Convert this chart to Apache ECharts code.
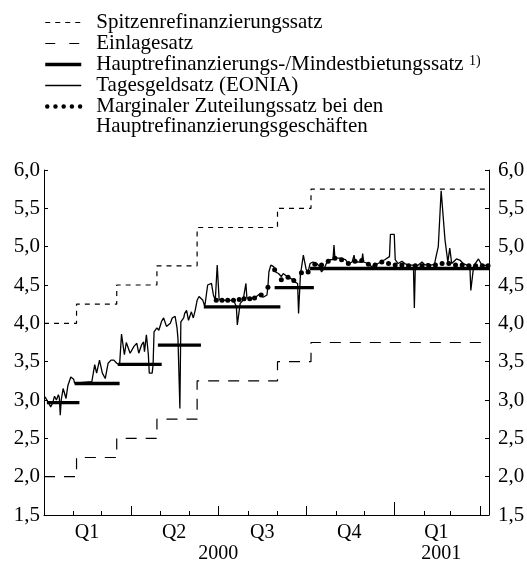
<!DOCTYPE html>
<html>
<head>
<meta charset="utf-8">
<script src="https://cdn.jsdelivr.net/npm/echarts@6/dist/echarts.min.js"></script>
<style>
  html, body { margin: 0; padding: 0; background: #fff; }
  #chart { width: 527px; height: 561px; }
</style>
</head>
<body>
<div id="chart"></div>
<script>
// Leitzinsen: Stufenwerte gelten ab dem jeweiligen Datum
const rateDates = ['2000-01-01', '2000-02-04', '2000-03-17', '2000-04-28', '2000-06-09', '2000-09-01', '2000-10-06', '2001-04-10']
const marginalRate = [4.00, 4.25, 4.50, 4.75, 5.25, 5.50, 5.75, 5.75]
const depositRate = [2.00, 2.25, 2.50, 2.75, 3.25, 3.50, 3.75, 3.75]

// Hauptrefinanzierungssatz, als einzelne Abschnitte
const mroFrom = ['2000-01-04', '2000-02-02', '2000-03-18', '2000-04-29', '2000-06-16', '2000-08-29', '2000-10-05']
const mroTo = ['2000-02-07', '2000-03-20', '2000-05-03', '2000-06-13', '2000-09-04', '2000-10-09', '2001-04-10']
const mroLevel = [2.965, 3.215, 3.465, 3.715, 4.215, 4.465, 4.715]

// EONIA, Tage seit 1.1.2000
const eoniaDay = [1, 2, 4, 7, 9, 11, 13, 15, 16, 17, 18, 20, 23, 25, 28, 31, 32, 34, 50, 51,
  53, 55, 58, 61, 64, 67, 70, 73, 76, 79, 81, 84, 86, 88, 90, 92, 94, 97, 99, 100,
  102, 104, 105, 107, 109, 110, 113, 114, 115, 118, 120, 123, 125, 128, 132, 134, 137, 139, 140, 142,
  143, 146, 147, 149, 151, 154, 156, 158, 160, 162, 164, 166, 168, 171, 172, 175, 177, 179, 180, 181,
  182, 183, 190, 198, 200, 201, 202, 204, 205, 208, 210, 211, 212, 219, 222, 226, 229, 233, 234, 235,
  237, 240, 242, 245, 248, 250, 254, 257, 260, 262, 265, 266, 267, 268, 269, 271, 273, 274, 276, 278,
  281, 285, 288, 290, 293, 295, 299, 302, 303, 304, 309, 315, 318, 322, 324, 325, 332, 333, 334, 339,
  342, 346, 349, 352, 356, 361, 362, 366, 367, 370, 374, 377, 381, 386, 387, 388, 391, 395, 398, 401,
  404, 408, 410, 412, 414, 415, 417, 419, 421, 422, 424, 426, 431, 435, 438, 442, 445, 446, 448, 449,
  454, 457, 460, 464]
const eoniaRate = [3.04, 3.04, 2.98, 2.91, 2.96, 3.05, 3.00, 3.07, 3.03, 2.80, 3.00, 3.15, 3.02, 3.19, 3.30, 3.27, 3.22, 3.24, 3.24, 3.23,
  3.46, 3.35, 3.52, 3.35, 3.28, 3.48, 3.52, 3.52, 3.48, 3.46, 3.86, 3.59, 3.75, 3.74, 3.61, 3.61, 3.70, 3.74, 3.61, 3.61,
  3.72, 3.76, 3.63, 3.85, 3.60, 3.35, 3.35, 3.46, 3.89, 3.94, 3.91, 4.03, 4.07, 3.96, 4.00, 4.07, 4.09, 3.94, 3.80, 2.89,
  4.02, 4.07, 4.13, 4.17, 4.04, 4.15, 4.07, 4.17, 4.30, 4.35, 4.35, 4.30, 4.22, 4.50, 4.50, 4.52, 4.37, 4.30, 4.30, 4.76,
  4.76, 4.31, 4.30, 4.30, 4.28, 4.22, 3.98, 3.98, 4.26, 4.30, 4.30, 4.52, 4.33, 4.33, 4.35, 4.39, 4.34, 4.37, 4.48, 4.67,
  4.76, 4.74, 4.67, 4.65, 4.61, 4.65, 4.61, 4.59, 4.57, 4.54, 4.52, 4.13, 4.13, 4.65, 4.72, 4.89, 4.89, 4.70, 4.67, 4.78,
  4.80, 4.78, 4.74, 4.67, 4.72, 4.78, 4.83, 4.83, 5.02, 4.85, 4.85, 4.83, 4.78, 4.80, 4.89, 4.80, 4.80, 4.91, 4.80, 4.78,
  4.74, 4.76, 4.78, 4.80, 4.83, 4.87, 5.16, 5.16, 4.83, 4.78, 4.81, 4.78, 4.76, 4.76, 4.20, 4.74, 4.76, 4.80, 4.76, 4.78,
  4.76, 4.77, 4.89, 5.00, 5.00, 5.73, 5.73, 5.09, 5.09, 4.80, 4.98, 4.78, 4.84, 4.82, 4.78, 4.76, 4.75, 4.43, 4.43, 4.75,
  4.84, 4.77, 4.76, 4.75]

// Marginaler Zuteilungssatz, Tage seit 1.1.2000
const allotDay = [180, 186, 192, 198, 204, 209, 215, 220, 227, 234, 241, 248, 255, 261, 269, 276, 283, 290, 297, 304,
  311, 318, 325, 332, 339, 346, 353, 360, 367, 374, 381, 388, 395, 402, 409, 416, 423, 430, 437, 444,
  451, 458, 464]
const allotRate = [4.30, 4.30, 4.30, 4.30, 4.31, 4.32, 4.32, 4.33, 4.37, 4.47, 4.70, 4.57, 4.60, 4.56, 4.66, 4.67, 4.77, 4.76, 4.81, 4.85,
  4.83, 4.78, 4.81, 4.82, 4.77, 4.76, 4.80, 4.78, 4.76, 4.76, 4.75, 4.75, 4.75, 4.75, 4.76, 4.78, 4.78, 4.76, 4.76, 4.75,
  4.75, 4.75, 4.75]

// Achse
const monthTicks = ['2000-02-01', '2000-03-01', '2000-04-01', '2000-05-01', '2000-06-01', '2000-07-01', '2000-08-01',
  '2000-09-01', '2000-10-01', '2000-11-01', '2000-12-01', '2001-01-01', '2001-02-01', '2001-03-01', '2001-04-01']
const quarterTicks = ['2000-04-01', '2000-07-01', '2000-10-01', '2001-04-01']
const quarterMid = ['2000-02-15', '2000-05-16', '2000-08-16', '2000-11-15', '2001-02-14']
const quarterLabels = ['Q1', 'Q2', 'Q3', 'Q4', 'Q1']
const yearTicks = ['2001-01-01']
const yearMid = ['2000-07-01', '2001-02-19']
const yearLabels = ['2000', '2001']

const names = [
  'Spitzenrefinanzierungssatz',
  'Einlagesatz',
  'Hauptrefinanzierungs-/Mindestbietungssatz',
  'Tagesgeldsatz (EONIA)',
  'Marginaler Zuteilungssatz bei den'
]
const secondLine = 'Hauptrefinanzierungsgeschäften'

const font = '"Liberation Serif", "Times New Roman", serif'
const black = '#000'

function toTime(s) {
  let p = s.split('-')
  return new Date(+p[0], +p[1] - 1, +p[2]).getTime()
}
function dayTime(d) {
  return new Date(2000, 0, 1 + d).getTime()
}

let xMin = toTime('2000-01-01')
let xMax = toTime('2001-04-10')

let mroData = []
mroLevel.forEach((v, i) => {
  mroData.push([toTime(mroFrom[i]), v], [toTime(mroTo[i]), v])
  if (i < mroLevel.length - 1) mroData.push([toTime(mroTo[i]), '-'])
})

let quarterMidT = quarterMid.map(toTime)
let yearMidT = yearMid.map(toTime)

let baseX = {
  type: 'value', min: xMin, max: xMax, position: 'bottom', scale: true,
  splitLine: {show: false}, axisPointer: {show: false}
}
let labelStyle = {color: black, fontFamily: font, fontSize: 20}
let yLabelStyle = {color: black, fontFamily: font, fontSize: 21}
let baseY = {
  type: 'value', min: 1.5, max: 6, interval: 0.5,
  splitLine: {show: false},
  axisLine: {show: true, lineStyle: {color: black, width: 1}},
  axisTick: {show: true, inside: true, length: 4, lineStyle: {color: black}}
}

let option = {
  animation: false,
  color: [black],
  grid: {left: 44, right: 38, top: 170, bottom: 46, containLabel: false, outerBoundsMode: 'none'},
  legend: {
    orient: 'vertical', left: 43, top: 12, padding: 0,
    itemWidth: 36, itemHeight: 10, itemGap: 0,
    selectedMode: false,
    itemStyle: {opacity: 0},
    textStyle: {
      fontFamily: font, fontSize: 21, color: black, lineHeight: 21, padding: [0, 0, 0, 10],
      rich: {
        n: {fontFamily: font, fontSize: 21, color: black, lineHeight: 21},
        s: {fontFamily: font, fontSize: 14, color: black, lineHeight: 19, verticalAlign: 'top'}
      }
    },
    formatter: name => name === names[2] ? '{n|' + name + '} {s|1)}' : name,
    data: [
      {name: names[0], lineStyle: {color: black, width: 1.2, type: [5, 5], opacity: 1}},
      {name: names[1], lineStyle: {color: black, width: 1.2, type: [10, 14], opacity: 1}},
      {name: names[2], lineStyle: {color: black, width: 3.3, type: 'solid', opacity: 1}},
      {name: names[3], lineStyle: {color: black, width: 1.3, type: 'solid', opacity: 1}},
      {name: names[4], lineStyle: {color: black, width: 4.5, type: [0.01, 8.2], cap: 'round', opacity: 1, dashOffset: -2}}
    ]
  },
  graphic: [{
    type: 'text', x: 96, y: 126,
    style: {text: secondLine, fontFamily: font, fontSize: 21, fill: black, verticalAlign: 'middle'}
  }],
  xAxis: [
    {
      ...baseX,
      axisLine: {show: true, onZero: false, lineStyle: {color: black, width: 1}},
      axisTick: {show: true, inside: true, length: 4, customValues: monthTicks.map(toTime), lineStyle: {color: black}},
      axisLabel: {show: false}
    },
    {
      ...baseX,
      axisLine: {show: false, onZero: false},
      axisTick: {show: true, inside: true, length: 9, customValues: quarterTicks.map(toTime), lineStyle: {color: black}},
      axisLabel: {
        ...labelStyle, margin: 8, hideOverlap: false,
        customValues: quarterMidT,
        formatter: v => quarterLabels[quarterMidT.indexOf(v)]
      }
    },
    {
      ...baseX,
      axisLine: {show: false, onZero: false},
      axisTick: {show: true, inside: true, length: 13, customValues: yearTicks.map(toTime), lineStyle: {color: black}},
      axisLabel: {
        ...labelStyle, margin: 29, hideOverlap: false,
        customValues: yearMidT,
        formatter: v => yearLabels[yearMidT.indexOf(v)]
      }
    }
  ],
  yAxis: [
    {...baseY, position: 'left', axisLabel: {...yLabelStyle, margin: 4, formatter: v => v.toFixed(1).replace('.', ',')}},
    {...baseY, position: 'right', axisLabel: {...yLabelStyle, margin: 9, formatter: v => v.toFixed(1).replace('.', ',')}}
  ],
  series: [
    {
      name: names[0], type: 'line', step: 'end', symbol: 'none',
      data: rateDates.map((d, i) => [toTime(d), marginalRate[i]]),
      lineStyle: {color: black, width: 1.2, type: [5, 5]}
    },
    {
      name: names[1], type: 'line', step: 'end', symbol: 'none',
      data: rateDates.map((d, i) => [toTime(d), depositRate[i]]),
      lineStyle: {color: black, width: 1.2, type: [11, 9]}
    },
    {
      name: names[2], type: 'line', symbol: 'none', connectNulls: false,
      data: mroData,
      lineStyle: {color: black, width: 3.3}
    },
    {
      name: names[3], type: 'line', symbol: 'none',
      data: eoniaDay.map((d, i) => [dayTime(d), eoniaRate[i]]),
      lineStyle: {color: black, width: 1.3}
    },
    {
      name: names[4], type: 'line', symbol: 'circle', symbolSize: 5, showSymbol: true,
      data: allotDay.map((d, i) => [dayTime(d), allotRate[i]]),
      itemStyle: {color: black},
      lineStyle: {width: 0}
    }
  ]
}

let myChart = echarts.init(document.getElementById('chart'), null, {renderer: 'canvas'})
myChart.setOption(option)
</script>
</body>
</html>
